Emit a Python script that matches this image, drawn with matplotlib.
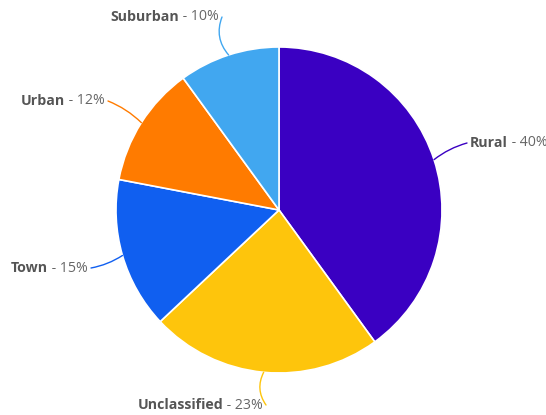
import numpy as np
import matplotlib
matplotlib.use("Agg")
import matplotlib.pyplot as plt

categories = ["Rural", "Unclassified", "Town", "Urban", "Suburban"]
values = [40, 23, 15, 12, 10]
colors = ["#3a00c2", "#fec50c", "#105ff0", "#ff7b00", "#41a7f0"]

W, H = 546, 415
fig = plt.figure(figsize=(W / 100, H / 100), dpi=100)
ax = fig.add_axes([0, 0, 1, 1])

cx, cy, R = 279, H - 210, 163
wedges, _ = ax.pie(values, colors=colors, startangle=90, counterclock=False,
                   center=(cx, cy), radius=R, frame=True,
                   wedgeprops=dict(edgecolor="white", linewidth=1.2))
ax.set_xlim(0, W)
ax.set_ylim(0, H)
ax.set_aspect("equal")
ax.axis("off")

# label layout: (text anchor x, y in pixel-from-top, alignment, connector rad)
layout = {
    "Rural": (470, 143, "left", 0.1),
    "Unclassified": (263, 405, "right", -0.3),
    "Town": (88, 268, "right", 0.1),
    "Urban": (105, 101, "right", -0.1),
    "Suburban": (219, 17, "right", 0.3),
}

fam = ["Open Sans", "DejaVu Sans"]
fs = 10.2
for w, cat, val, col in zip(wedges, categories, values, colors):
    mid = np.deg2rad((w.theta1 + w.theta2) / 2)
    ex, ey = cx + R * np.cos(mid), cy + R * np.sin(mid)
    tx, tpy, ha, rad = layout[cat]
    ty = H - tpy
    if ha == "left":
        t1 = ax.text(tx, ty, cat, ha="left", va="center", fontsize=fs,
                     fontweight="bold", color="#555555", family=fam)
        ax.annotate(f" - {val}%", xy=(1, 0.5), xycoords=t1, ha="left",
                    va="center", fontsize=fs, color="#666666", family=fam)
        lx = tx - 3
    else:
        t2 = ax.text(tx, ty, f" - {val}%", ha="right", va="center", fontsize=fs,
                     color="#666666", family=fam)
        ax.annotate(cat, xy=(0, 0.5), xycoords=t2, ha="right", va="center",
                    fontsize=fs, fontweight="bold", color="#555555", family=fam)
        lx = tx + 3
    ax.annotate("", xy=(ex, ey), xytext=(lx, ty),
                arrowprops=dict(arrowstyle="-", color=col, lw=1,
                                shrinkA=0, shrinkB=0,
                                connectionstyle=f"arc3,rad={rad}"))

fig.savefig("out.png", dpi=100, facecolor="white")
